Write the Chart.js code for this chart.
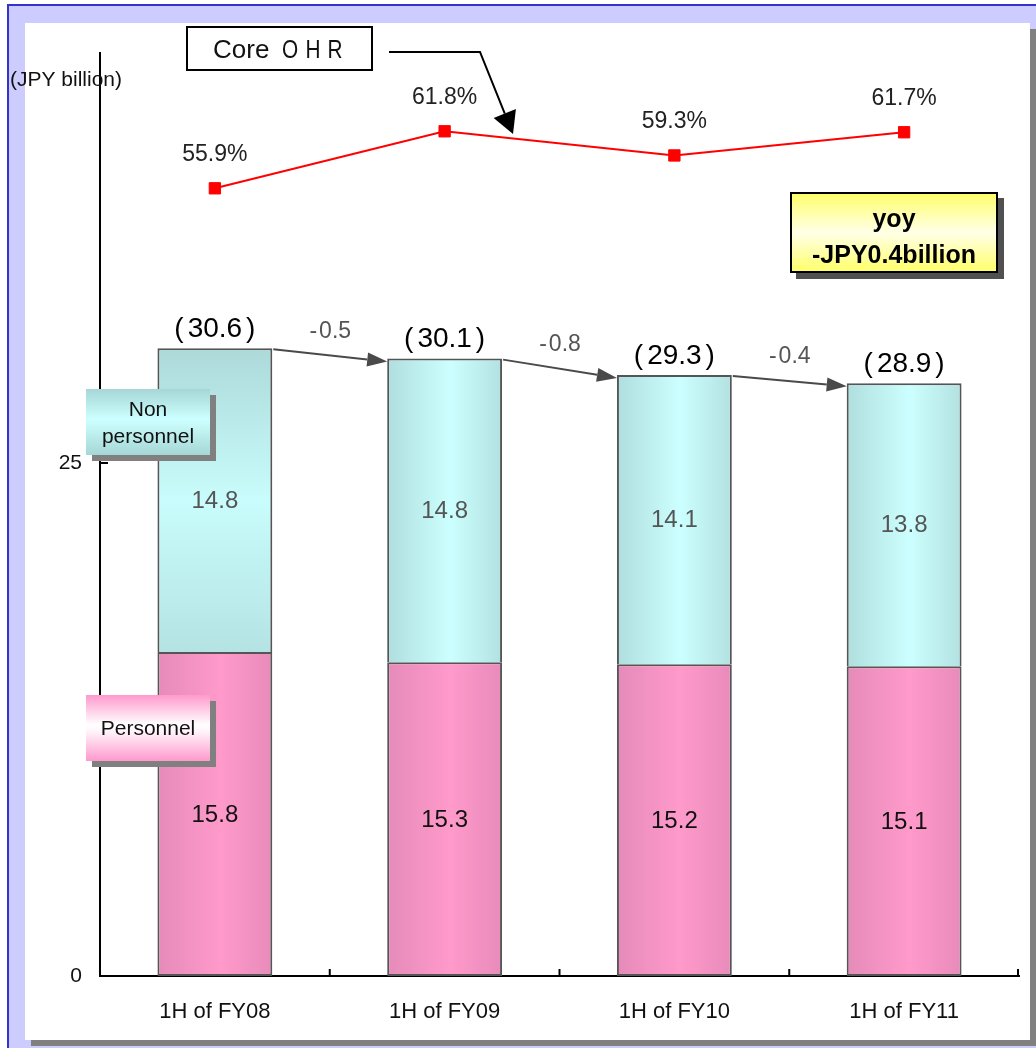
<!DOCTYPE html>
<html>
<head>
<meta charset="utf-8">
<script src="https://cdn.jsdelivr.net/npm/chart.js@4.4.0/dist/chart.umd.min.js"></script>
<style>
  html, body { margin: 0; padding: 0; background: #fff; overflow: hidden; }
  canvas { display: block; }
</style>
</head>
<body>
<canvas id="c" width="1036" height="1048"></canvas>
<script>
// Expense breakdown (JPY billion) and core overhead ratio by half-year
const categories   = ['1H of FY08', '1H of FY09', '1H of FY10', '1H of FY11'];
const personnel    = [15.8, 15.3, 15.2, 15.1];
const nonPersonnel = [14.8, 14.8, 14.1, 13.8];
const coreOHR      = [55.9, 61.8, 59.3, 61.7];
const yTicks       = [0, 25];
const unitLabel    = '(JPY billion)';
const yoyLines     = ['yoy', '-JPY0.4billion'];

const FONT = '"Liberation Sans", Arial, Helvetica, sans-serif';

const totals  = personnel.map((v, i) => Math.round((v + nonPersonnel[i]) * 10) / 10);
const changes = totals.slice(1).map((v, i) => Math.round((v - totals[i]) * 10) / 10);

// horizontal span of bar i, from the category scale
function barSpan(chart, i) {
  const x = chart.scales.x;
  const w = (x.right - x.left) / categories.length * 0.5;
  const c = x.getPixelForValue(i);
  return [c - w / 2, c + w / 2];
}

function hGrad(chart, i, edgeL, mid, edgeR) {
  const [l, r] = barSpan(chart, i);
  const g = chart.ctx.createLinearGradient(l, 0, r, 0);
  g.addColorStop(0, edgeL);
  g.addColorStop(0.55, mid);
  g.addColorStop(1, edgeR);
  return g;
}

function personnelFill(ctx) {
  const ch = ctx.chart;
  if (!ch.chartArea || ctx.type !== 'data') return '#F799C8';
  return hGrad(ch, ctx.dataIndex, '#E58BB9', '#FF9ACB', '#E88BBA');
}

function nonPersonnelFill(ctx) {
  const ch = ctx.chart;
  if (!ch.chartArea || ctx.type !== 'data') return '#C0F0F0';
  const i = ctx.dataIndex;
  if (i === 0) {
    const y = ch.scales.y;
    const top = y.getPixelForValue(totals[0]);
    const bot = y.getPixelForValue(personnel[0]);
    const g = ch.ctx.createLinearGradient(0, top, 0, bot);
    g.addColorStop(0, '#ADD9D9');
    g.addColorStop(0.5, '#C9FCFC');
    g.addColorStop(1, '#B5E3E3');
    return g;
  }
  return hGrad(ch, i, '#B0DEDE', '#CCFFFF', '#B3E1E1');
}

function arrow(ctx, pts, headLen, headHalf, color, lw) {
  const n = pts.length;
  const [x2, y2] = pts[n - 1];
  const [x1, y1] = pts[n - 2];
  const a = Math.atan2(y2 - y1, x2 - x1);
  const bx = x2 - headLen * Math.cos(a), by = y2 - headLen * Math.sin(a);
  ctx.save();
  ctx.strokeStyle = color; ctx.fillStyle = color; ctx.lineWidth = lw;
  ctx.beginPath();
  ctx.moveTo(pts[0][0], pts[0][1]);
  for (let k = 1; k < n - 1; k++) ctx.lineTo(pts[k][0], pts[k][1]);
  ctx.lineTo(bx, by);
  ctx.stroke();
  ctx.beginPath();
  ctx.moveTo(x2, y2);
  ctx.lineTo(bx + headHalf * Math.sin(a), by - headHalf * Math.cos(a));
  ctx.lineTo(bx - headHalf * Math.sin(a), by + headHalf * Math.cos(a));
  ctx.closePath();
  ctx.fill();
  ctx.restore();
}

function shadowBox(ctx, x, y, w, h, fill, shadow, border) {
  ctx.fillStyle = shadow;
  ctx.fillRect(x + 6, y + 6, w, h);
  ctx.fillStyle = fill;
  ctx.fillRect(x, y, w, h);
  if (border) {
    ctx.strokeStyle = '#000';
    ctx.lineWidth = 2;
    ctx.strokeRect(x + 1, y + 1, w - 2, h - 2);
  }
}

function vGrad(ctx, y, h, stops) {
  const g = ctx.createLinearGradient(0, y, 0, y + h);
  stops.forEach(([p, c]) => g.addColorStop(p, c));
  return g;
}

const decor = {
  id: 'decor',
  beforeDraw(chart) {
    const ctx = chart.ctx;
    ctx.save();
    ctx.fillStyle = '#FFFFFF';
    ctx.fillRect(0, 0, 1036, 1048);
    ctx.fillStyle = '#CCCCFF';
    ctx.fillRect(7, 4, 1029, 1044);
    ctx.fillStyle = '#3333CC';
    ctx.fillRect(7, 4, 1029, 2);
    ctx.fillRect(7, 4, 2, 1044);
    ctx.fillStyle = '#808080';
    ctx.fillRect(31, 29, 1005, 1017);
    ctx.fillStyle = '#FFFFFF';
    ctx.fillRect(25, 23, 1005, 1017);
    ctx.restore();
  },
  afterDatasetsDraw(chart) {
    const ctx = chart.ctx;
    const pMeta = chart.getDatasetMeta(0);
    const nMeta = chart.getDatasetMeta(1);
    const lMeta = chart.getDatasetMeta(2);
    ctx.save();
    ctx.textAlign = 'center';
    ctx.textBaseline = 'middle';

    // segment values
    ctx.font = `24px ${FONT}`;
    pMeta.data.forEach((el, i) => {
      ctx.fillStyle = '#111';
      ctx.fillText(personnel[i].toFixed(1), el.x, (el.y + el.base) / 2 + 1);
    });
    nMeta.data.forEach((el, i) => {
      ctx.fillStyle = '#555';
      ctx.fillText(nonPersonnel[i].toFixed(1), el.x, (el.y + el.base) / 2 + 1);
    });

    // totals above bars
    ctx.font = `28px ${FONT}`;
    ctx.fillStyle = '#000';
    nMeta.data.forEach((el, i) => {
      const s = totals[i].toFixed(1);
      const inner = ctx.measureText(s).width;
      const p = ctx.measureText('(').width;
      const gap = 4;
      const total = inner + 2 * p + 2 * gap;
      const x = el.x - total / 2;
      const y = el.y - 19;
      ctx.textAlign = 'left';
      ctx.fillText('(', x, y);
      ctx.fillText(s, x + p + gap, y);
      ctx.fillText(')', x + p + gap + inner + gap, y);
    });

    // change arrows between bar tops
    ctx.font = `23px ${FONT}`;
    for (let i = 0; i < changes.length; i++) {
      const a = nMeta.data[i], b = nMeta.data[i + 1];
      const x1 = a.x + a.width / 2 + 1, y1 = a.y + 1;
      const x2 = b.x - b.width / 2, y2 = b.y + 3;
      arrow(ctx, [[x1, y1], [x2, y2]], 20, 7, '#4A4A4A', 2);
      ctx.fillStyle = '#555';
      const s = changes[i].toFixed(1);
      const mx = (x1 + x2) / 2, my = (y1 + y2) / 2 - 24;
      const dash = ctx.measureText('-').width, rest = ctx.measureText(s.slice(1)).width;
      const tw = dash + 2 + rest;
      ctx.textAlign = 'left';
      ctx.fillText('-', mx - tw / 2, my);
      ctx.fillText(s.slice(1), mx - tw / 2 + dash + 2, my);
    }

    // core OHR labels
    ctx.textAlign = 'center';
    ctx.font = `23px ${FONT}`;
    ctx.fillStyle = '#222';
    lMeta.data.forEach((el, i) => {
      ctx.fillText(coreOHR[i].toFixed(1) + '%', el.x, el.y - 34);
    });
    ctx.restore();
  },
  afterDraw(chart) {
    const ctx = chart.ctx;
    const x = chart.scales.x, y = chart.scales.y;
    ctx.save();

    // inner tick marks
    ctx.strokeStyle = '#000';
    ctx.lineWidth = 2;
    yTicks.filter(v => v > 0).forEach(v => {
      const py = Math.round(y.getPixelForValue(v));
      ctx.beginPath(); ctx.moveTo(x.left, py); ctx.lineTo(x.left + 8, py); ctx.stroke();
    });
    for (let i = 0; i < categories.length; i++) {
      const px = i < categories.length - 1
        ? (x.getPixelForValue(i) + x.getPixelForValue(i + 1)) / 2
        : x.right - 1;
      ctx.beginPath(); ctx.moveTo(px, y.bottom); ctx.lineTo(px, y.bottom - 7); ctx.stroke();
    }

    // unit label
    ctx.font = `21px ${FONT}`;
    ctx.fillStyle = '#111';
    ctx.textAlign = 'left';
    ctx.textBaseline = 'middle';
    ctx.fillText(unitLabel, 10, 80);

    // series tags
    shadowBox(ctx, 86, 389, 124, 66,
      vGrad(ctx, 389, 66, [[0, '#A6D6D6'], [0.45, '#CCFFFF'], [0.6, '#C4F6F6'], [1, '#A6D6D6']]),
      '#808080', false);
    shadowBox(ctx, 86, 695, 124, 66,
      vGrad(ctx, 695, 66, [[0, '#FF99CC'], [0.45, '#FFFFFF'], [0.55, '#FFF4FA'], [1, '#FF99CC']]),
      '#808080', false);
    ctx.textAlign = 'center';
    ctx.fillStyle = '#111';
    ctx.font = `21px ${FONT}`;
    ctx.fillText('Non', 148, 410);
    ctx.fillText('personnel', 148, 437);
    ctx.fillText('Personnel', 148, 729);

    // core OHR callout
    ctx.fillStyle = '#FFFFFF';
    ctx.fillRect(186, 26, 187, 45);
    ctx.strokeStyle = '#000';
    ctx.lineWidth = 2;
    ctx.strokeRect(187, 27, 185, 43);
    ctx.fillStyle = '#111';
    ctx.font = `26px ${FONT}`;
    ctx.textAlign = 'left';
    ctx.fillText('Core', 213, 51);
    ctx.textAlign = 'center';
    [['O', 290], ['H', 313], ['R', 335]].forEach(([ch, cx]) => {
      ctx.save();
      ctx.translate(cx, 51);
      ctx.scale(0.8, 1);
      ctx.fillText(ch, 0, 0);
      ctx.restore();
    });
    arrow(ctx, [[389, 52], [480, 52], [513, 134]], 22, 12, '#000', 2);

    // year-on-year note
    shadowBox(ctx, 790, 192, 208, 81,
      vGrad(ctx, 192, 81, [[0, '#FFFF66'], [0.5, '#FFFFE8'], [1, '#FFFF66']]),
      '#505050', true);
    ctx.fillStyle = '#000';
    ctx.font = `bold 25px ${FONT}`;
    ctx.textBaseline = 'alphabetic';
    ctx.fillText(yoyLines[0], 894, 227);
    ctx.fillText(yoyLines[1], 894, 263);

    ctx.restore();
  }
};

new Chart(document.getElementById('c'), {
  data: {
    labels: categories,
    datasets: [
      {
        type: 'bar', label: 'Personnel', data: personnel, order: 1,
        backgroundColor: personnelFill, borderColor: '#555555', borderWidth: 2, borderSkipped: false
      },
      {
        type: 'bar', label: 'Non personnel', data: nonPersonnel, order: 1,
        backgroundColor: nonPersonnelFill, borderColor: '#555555', borderWidth: 2, borderSkipped: 'bottom'
      },
      {
        type: 'line', label: 'Core OHR', data: coreOHR, yAxisID: 'y2', order: 0,
        borderColor: '#FF0000', borderWidth: 2, tension: 0,
        pointStyle: 'rect', pointRadius: 8, pointBackgroundColor: '#FF0000',
        pointBorderColor: '#FF0000', pointBorderWidth: 1
      }
    ]
  },
  options: {
    responsive: false,
    animation: false,
    devicePixelRatio: 1,
    layout: { padding: { left: 0, right: 17, top: 53, bottom: 0 } },
    datasets: { bar: { categoryPercentage: 1, barPercentage: 0.5 } },
    plugins: { legend: { display: false }, tooltip: { enabled: false } },
    scales: {
      x: {
        stacked: true, offset: true, z: 1,
        grid: { display: false, drawTicks: false },
        border: { display: true, color: '#000', width: 2 },
        ticks: { font: { family: FONT, size: 22 }, color: '#111', padding: 23 },
        afterFit: s => { s.height = 72; }
      },
      y: {
        stacked: true, min: 0, max: 45, z: 1,
        afterBuildTicks: s => { s.ticks = yTicks.map(v => ({ value: v })); },
        grid: { display: false, drawTicks: false },
        border: { display: true, color: '#000', width: 2 },
        ticks: { font: { family: FONT, size: 21 }, color: '#111', padding: 18 },
        afterFit: s => { s.width = 100; }
      },
      y2: { display: false, min: -25.6, max: 69.9 }
    }
  },
  plugins: [decor]
});
</script>
</body>
</html>
